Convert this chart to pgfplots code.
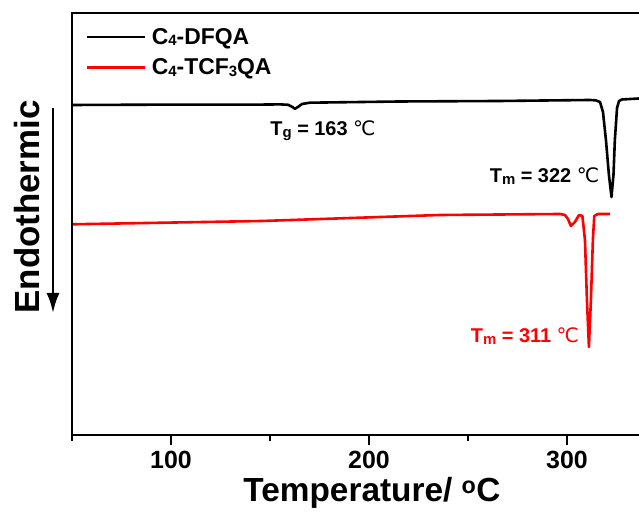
\documentclass[border=0pt]{standalone}
\usepackage{fontspec}
\setmainfont{Liberation Sans}
\newfontfamily\symfont{DejaVu Sans}
\usepackage{pgfplots}
\pgfplotsset{compat=1.18}
\usetikzlibrary{arrows.meta}

\newcommand{\degC}{{\symfont\mdseries ℃}}
\newcommand{\sub}[1]{\raisebox{-1.5bp}{\fontsize{15}{18}\selectfont #1}}

\begin{document}
\begin{tikzpicture}[x=1bp,y=1bp]
\begin{axis}[
  scale only axis,
  width=567bp, height=422bp,
  xmin=50, xmax=336.4,
  ymin=0, ymax=422,
  axis line style={draw=none},
  xtick={100,200,300},
  minor xtick={50,150,250},
  ytick=\empty,
  xtick pos=bottom,
  tick align=outside,
  major tick length=10bp,
  minor tick length=6bp,
  every tick/.style={black, line width=2.2bp},
  /pgf/number format/assume math mode=true,
  xticklabel style={font=\fontsize{25}{30}\selectfont\bfseries, inner sep=0pt, yshift=-6bp},
  legend style={at={(rel axis cs:0,1)}, anchor=north west, xshift=14bp, yshift=-15bp,
    draw=none, fill=none, inner sep=0pt, row sep=13bp, column sep=6bp,
    nodes={inner sep=0pt, anchor=west},
    font=\fontsize{23}{27}\selectfont\bfseries},
  legend image code/.code={\draw[#1] (0bp,0bp) -- (57bp,0bp);},
  legend cell align=left,
]
\addplot[black, line width=2.6bp, line join=round] coordinates {
  (50.0,330.0)(89.4,330.3)(139.9,330.3)(155.1,330.6)(159.1,330.2)(161.1,328.3)
  (162.6,326.2)(164.1,328.0)(166.2,331.0)(170.2,332.3)(215.7,333.5)(266.2,334.0)
  (311.6,335.0)(314.6,334.6)(316.7,333.0)(318.2,323.0)(319.7,295.0)(321.2,260.0)
  (322.5,238.0)(323.5,260.0)(324.2,295.0)(325.3,327.0)(326.3,334.0)(327.8,335.5)
  (336.4,336.5)
};
\addlegendentry{C\sub{4}-DFQA}
\addplot[red, line width=2.6bp, line join=round] coordinates {
  (50.0,210.7)(145.9,214.0)(235.9,220.0)(296.5,221.0)(299.0,220.0)(300.5,216.0)
  (302.0,209.0)(304.0,213.0)(306.1,220.0)(307.8,219.0)(309.1,195.0)(310.1,135.0)
  (311.1,88.0)(312.1,135.0)(313.1,195.0)(313.8,219.0)(315.7,221.0)(321.7,221.0)
};
\addlegendentry{C\sub{4}-TCF\sub{3}QA}
\end{axis}
% axis frame: left, bottom, top (right edge cut off)
\draw[line width=2.2bp, line cap=rect] (567,422) -- (0,422) -- (0,0) -- (567,0);
% annotations
\node[anchor=base, font=\fontsize{20}{24}\selectfont\bfseries] at (251,299) {T\sub{g} = 163 \degC};
\node[anchor=base, font=\fontsize{20}{24}\selectfont\bfseries] at (472.5,252) {T\sub{m} = 322 \degC};
\node[anchor=base, red, font=\fontsize{20}{24}\selectfont\bfseries] at (453,92) {T\sub{m} = 311 \degC};
% y label with arrow
\node[anchor=base, rotate=90, font=\fontsize{35}{40}\selectfont\bfseries] at (-32,228) {Endothermic};
\draw[line width=2.5bp, -{Latex[length=20bp,width=13bp]}] (-19,327) -- (-19,122);
% x label
\node[anchor=base, font=\fontsize{33.5}{38}\selectfont\bfseries] at (300,-67) {Temperature/ \textsuperscript{o}C};
\pgfresetboundingbox
\path (-72,-77) rectangle (567,435);
\end{tikzpicture}
\end{document}
